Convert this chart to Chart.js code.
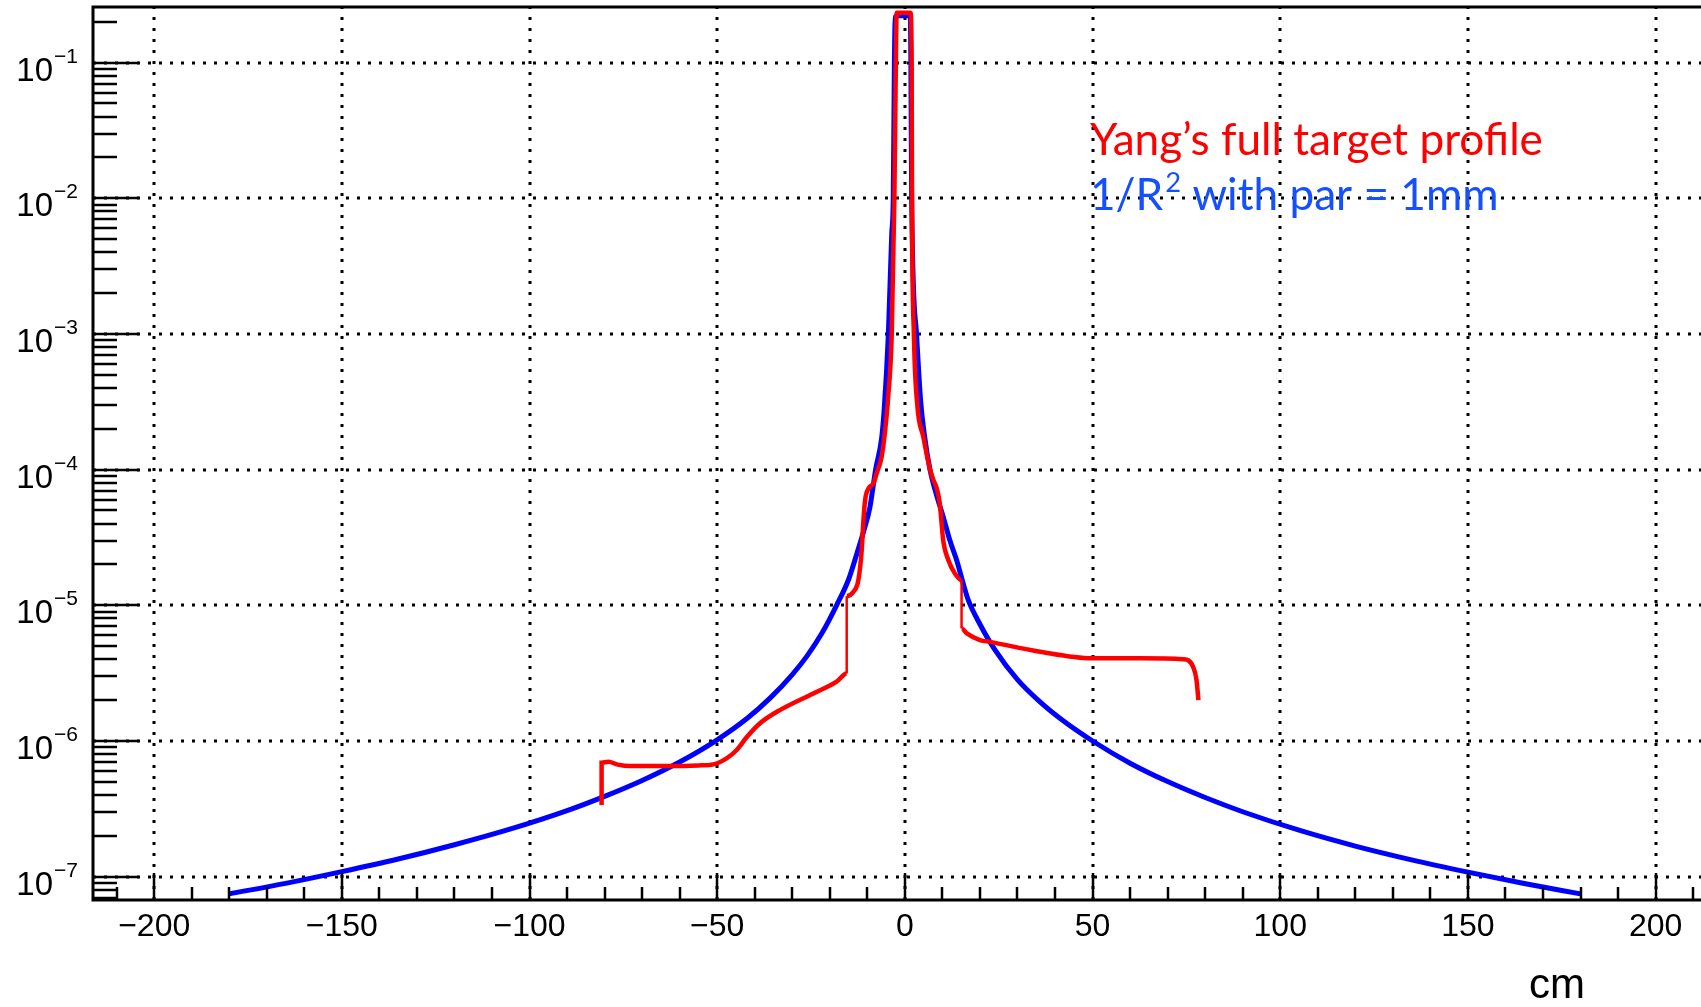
<!DOCTYPE html>
<html>
<head>
<meta charset="utf-8">
<title>Target profile vs 1/R²</title>
<script src="https://cdn.jsdelivr.net/npm/chart.js@4/dist/chart.umd.min.js"></script>
<style>
  html, body { margin: 0; padding: 0; background: #fff; }
  #wrap { position: relative; width: 1701px; height: 1007px; }
</style>
</head>
<body>
<div id="wrap"><canvas id="profile-chart"></canvas></div>
<script>
/* ── Data ── */
const RED_X = [
  -80.8, -80.8, -79.0, -76.5, -73.2, -62.6, -55.0, -51.0, -47.5, -44.8,
  -42.1, -38.6, -33.3, -24.4, -18.2, -15.5, -15.5, -13.7, -12.4, -11.5,
  -11.1, -10.6, -9.7, -8.4, -7.5, -6.2, -5.3, -4.5, -3.5, -2.8,
  -2.4, -2.2, 1.5, 1.8, 1.9, 2.4, 3.3, 4.9, 6.7, 7.6,
  8.5, 9.3, 10.2, 11.6, 13.3, 15.1, 15.1, 16.5, 20.0, 22.7,
  36.0, 49.8, 62.6, 74.2, 76.8, 77.7, 78.2,
];
const RED_Y = [
  3.37e-7, 6.92e-7, 7.03e-7, 6.7e-7, 6.53e-7, 6.53e-7, 6.6e-7, 6.73e-7, 7.45e-7, 8.58e-7,
  1.07e-6, 1.35e-6, 1.69e-6, 2.24e-6, 2.74e-6, 3.15e-6, 1.17e-5, 1.26e-5, 1.53e-5, 2.55e-5,
  4.0e-5, 5.96e-5, 7.26e-5, 7.9e-5, 9.4e-5, 1.24e-4, 1.9e-4, 3.3e-4, 1.0e-3, 1.0e-2,
  0.1, 0.233, 0.233, 0.1, 0.01, 1.0e-3, 3.0e-4, 1.75e-4, 1.0e-4, 8.4e-5,
  7.27e-5, 5.63e-5, 3.02e-5, 2.15e-5, 1.72e-5, 1.53e-5, 6.76e-6, 6.21e-6, 5.55e-6, 5.38e-6,
  4.55e-6, 4.07e-6, 4.07e-6, 4.0e-6, 3.52e-6, 2.81e-6, 2.0e-6,
];

const BLUE_X = [
  -180, -165, -150, -135, -120, -105, -90, -80, -70, -60,
  -50, -42, -36, -30, -26, -22, -18.2, -15, -12.8, -11,
  -9.3, -8.5, -7.8, -6.2, -5.5, -4.4, -3.5, -3.1, -2.8, -2.6,
  -2.3, 1.3, 1.5, 1.6, 1.8, 3.1, 4.2, 5.2, 6.7, 8.5,
  10.2, 12, 13.8, 15.5, 16.9, 20, 24, 30, 36, 42,
  50, 60, 70, 80, 90, 105, 120, 135, 150, 165,
  180,
];
const BLUE_Y = [
  7.47e-8, 8.93e-8, 1.09e-7, 1.35e-7, 1.72e-7, 2.25e-7, 3.07e-7, 3.91e-7, 5.12e-7, 7.0e-7,
  1.02e-6, 1.47e-6, 2.06e-6, 3.09e-6, 4.26e-6, 6.3e-6, 1.0e-5, 1.55e-5, 2.4e-5, 3.5e-5,
  5.3e-5, 7.4e-5, 1.0e-4, 1.7e-4, 2.8e-4, 1.0e-3, 5.5e-3, 1.0e-2, 0.098, 0.2,
  0.222, 0.222, 0.2, 0.1, 0.01, 1.0e-3, 3.2e-4, 1.8e-4, 1.0e-4, 6.4e-5,
  4.5e-5, 3.0e-5, 2.15e-5, 1.46e-5, 1.09e-5, 7.25e-6, 4.69e-6, 2.83e-6, 1.94e-6, 1.42e-6,
  1.0e-6, 6.86e-7, 5.02e-7, 3.83e-7, 3.01e-7, 2.2e-7, 1.68e-7, 1.33e-7, 1.08e-7, 8.9e-8,
  7.47e-8,
];

const X_TICK_LABELS = [-200, -150, -100, -50, 0, 50, 100, 150, 200];
const Y_DECADES     = [-7, -6, -5, -4, -3, -2, -1];

const LEGEND_RED  = 'Yang\u2019s full target profile';
const LEGEND_BLUE = ['1/R', '2', ' with par = 1mm'];
const X_TITLE     = 'cm';

/* ── Constants ── */
const X_MIN = -216.3, X_MAX = 212.1;
const Y_MIN = 6.73e-8, Y_MAX = 0.257;
const INK   = '#000';
const AXIS_FONT = '"Liberation Sans", Arial, Helvetica, sans-serif';
const TEXT_FONT = 'Lato, "Open Sans", sans-serif';

const toPts = (xs, ys) => xs.map((x, i) => ({ x, y: ys[i] }));

/* ── ROOT-style frame: dotted grid, inward ticks, labels ── */
const rootFrame = {
  id: 'rootFrame',
  beforeDatasetsDraw(chart) {
    const { ctx, chartArea: a, scales: { x, y } } = chart;
    ctx.save();
    ctx.strokeStyle = INK;
    ctx.lineWidth = 3;
    ctx.setLineDash([3, 8]);
    X_TICK_LABELS.forEach(v => {
      const px = Math.round(x.getPixelForValue(v));
      ctx.beginPath();
      ctx.moveTo(px, a.bottom);
      ctx.lineTo(px, a.top);
      ctx.stroke();
    });
    Y_DECADES.forEach(d => {
      const py = Math.round(y.getPixelForValue(Math.pow(10, d)));
      ctx.beginPath();
      ctx.moveTo(a.left, py);
      ctx.lineTo(a.right, py);
      ctx.stroke();
    });
    ctx.restore();
  },
  afterDatasetsDraw(chart) {
    const { ctx, chartArea: a, scales: { x, y } } = chart;
    ctx.save();
    ctx.strokeStyle = INK;
    ctx.fillStyle = INK;
    ctx.setLineDash([]);

    // frame lines
    ctx.lineWidth = 3;
    ctx.beginPath();
    ctx.moveTo(a.right, a.top);
    ctx.lineTo(a.left, a.top);
    ctx.lineTo(a.left, a.bottom);
    ctx.lineTo(a.right, a.bottom);
    ctx.stroke();

    // x ticks every 10, major every 50
    ctx.lineWidth = 2.5;
    for (let v = -210; v <= 210; v += 10) {
      if (v < X_MIN || v > X_MAX) continue;
      const px = Math.round(x.getPixelForValue(v));
      const len = v % 50 === 0 ? 27 : 13;
      ctx.beginPath();
      ctx.moveTo(px, a.bottom);
      ctx.lineTo(px, a.bottom - len);
      ctx.stroke();
    }

    // y ticks: decades + 2..9
    for (let d = -8; d <= 0; d++) {
      for (let m = 1; m <= 9; m++) {
        const v = m * Math.pow(10, d);
        if (v < Y_MIN || v > Y_MAX) continue;
        const py = Math.round(y.getPixelForValue(v));
        const len = m === 1 ? 46 : 24;
        ctx.beginPath();
        ctx.moveTo(a.left, py);
        ctx.lineTo(a.left + len, py);
        ctx.stroke();
      }
    }

    // x labels
    ctx.font = '32px ' + AXIS_FONT;
    ctx.textAlign = 'center';
    ctx.textBaseline = 'alphabetic';
    X_TICK_LABELS.forEach(v => {
      const txt = v < 0 ? '\u2212' + Math.abs(v) : String(v);
      ctx.fillText(txt, x.getPixelForValue(v), a.bottom + 36);
    });

    // y labels 10^d
    ctx.textAlign = 'right';
    Y_DECADES.forEach(d => {
      const py = y.getPixelForValue(Math.pow(10, d));
      const sup = '\u2212' + Math.abs(d);
      ctx.font = '21px ' + AXIS_FONT;
      const w = ctx.measureText(sup).width;
      ctx.fillText(sup, 78, py);
      ctx.font = '33px ' + AXIS_FONT;
      ctx.fillText('10', 78 - w - 1, py + 18);
    });

    // axis title
    ctx.font = '42px ' + AXIS_FONT;
    ctx.textAlign = 'right';
    ctx.fillText(X_TITLE, 1585, 998);

    // legend text
    ctx.textAlign = 'left';
    ctx.font = '42px ' + TEXT_FONT;
    const size = 42 * 453 / ctx.measureText(LEGEND_RED).width;
    ctx.font = size + 'px ' + TEXT_FONT;
    ctx.fillStyle = '#ff0000';
    ctx.fillText(LEGEND_RED, 1090, 155);

    ctx.fillStyle = '#1450ff';
    let cx = 1090;
    ctx.fillText(LEGEND_BLUE[0], cx, 210);
    cx += ctx.measureText(LEGEND_BLUE[0]).width + 2;
    ctx.font = (size * 0.62) + 'px ' + TEXT_FONT;
    ctx.fillText(LEGEND_BLUE[1], cx, 192);
    cx += ctx.measureText(LEGEND_BLUE[1]).width;
    ctx.font = size + 'px ' + TEXT_FONT;
    ctx.fillText(LEGEND_BLUE[2], cx, 210);

    ctx.restore();
  },
};

/* ── Chart ── */
function drawProfile() {
  const canvas = document.getElementById('profile-chart');
  if (!canvas) return;

  new Chart(canvas, {
    type: 'scatter',
    plugins: [rootFrame],
    data: {
      datasets: [
        {
          label:                  'Yang\u2019s full target profile',
          data:                   toPts(RED_X, RED_Y),
          showLine:               true,
          borderColor:            '#ff0000',
          borderWidth:            4.5,
          pointRadius:            0,
          cubicInterpolationMode: 'monotone',
          order:                  0,
          segment: {
            borderWidth: c => (c.p0.parsed.x === c.p1.parsed.x &&
              Math.abs(c.p0.parsed.x) > 10 && Math.abs(c.p0.parsed.x) < 20) ? 2.5 : undefined,
          },
        },
        {
          label:                  '1/R\u00b2 with par = 1mm',
          data:                   toPts(BLUE_X, BLUE_Y),
          showLine:               true,
          borderColor:            '#0000ff',
          borderWidth:            5,
          pointRadius:            0,
          cubicInterpolationMode: 'monotone',
          order:                  1,
        },
      ],
    },
    options: {
      responsive:          true,
      maintainAspectRatio: false,
      animation:           false,
      layout: { padding: { left: 93, top: 7, right: 0, bottom: 107 } },
      plugins: {
        legend:  { display: false },
        tooltip: { enabled: false },
      },
      scales: {
        x: { type: 'linear',      min: X_MIN, max: X_MAX, display: false },
        y: { type: 'logarithmic', min: Y_MIN, max: Y_MAX, display: false },
      },
    },
  });
}

drawProfile();
</script>
</body>
</html>
